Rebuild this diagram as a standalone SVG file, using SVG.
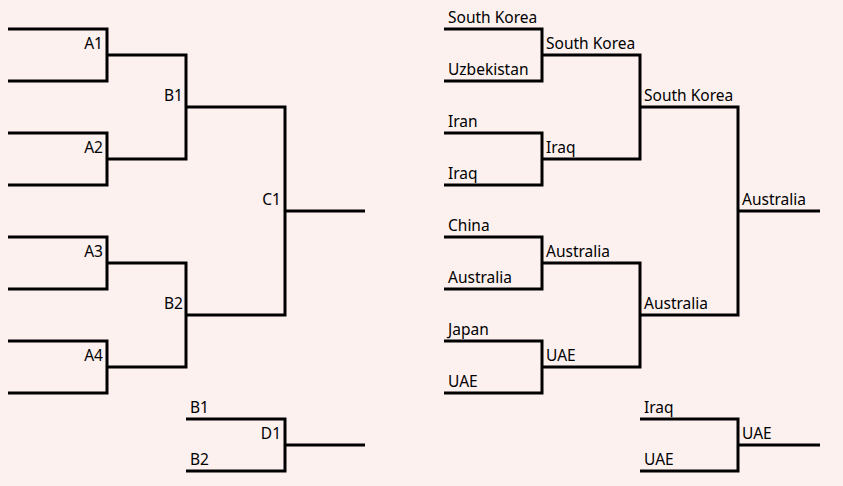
<svg xmlns="http://www.w3.org/2000/svg" width="843" height="486" viewBox="0 0 843 486">
<style>
.ln{fill:none;stroke:#000;stroke-width:3;stroke-linecap:butt;stroke-linejoin:miter}
.t{font-family:"Noto Sans","Open Sans","DejaVu Sans",sans-serif;font-size:15.5px;fill:#000}
.r{text-anchor:end}
</style>
<rect width="843" height="486" fill="#fdf1f0"/>
<g id="connectors">
<path class="ln" d="M8 29H107V81H8M8 133H107V185H8M8 237H107V289H8M8 341H107V393H8"/>
<path class="ln" d="M107 55H186V159H107M107 263H186V367H107"/>
<path class="ln" d="M186 107H285V315H186M285 211H365"/>
<path class="ln" d="M186 419H285V471H186M285 445H365"/>
<path class="ln" d="M444 29H542V81H444M444 133H542V185H444M444 237H542V289H444M444 341H542V393H444"/>
<path class="ln" d="M542 55H640V159H542M542 263H640V367H542"/>
<path class="ln" d="M640 107H738V315H640M738 211H820"/>
<path class="ln" d="M640 419H738V471H640M738 445H820"/>
</g>
<g id="A1"><text class="t r" x="103" y="49">A1</text></g>
<g id="A2"><text class="t r" x="103" y="153">A2</text></g>
<g id="A3"><text class="t r" x="103" y="257">A3</text></g>
<g id="A4"><text class="t r" x="103" y="361">A4</text></g>
<g id="B1"><text class="t r" x="183" y="101">B1</text></g>
<g id="B2"><text class="t r" x="183" y="309">B2</text></g>
<g id="C1"><text class="t r" x="281" y="205">C1</text></g>
<g id="D1"><text class="t" x="190" y="413">B1</text><text class="t" x="190" y="465">B2</text><text class="t r" x="281" y="439">D1</text></g>
<g id="r1">
<text class="t" x="448" y="23">South Korea</text>
<text class="t" x="448" y="75">Uzbekistan</text>
<text class="t" x="448" y="127">Iran</text>
<text class="t" x="448" y="179">Iraq</text>
<text class="t" x="448" y="231">China</text>
<text class="t" x="448" y="283">Australia</text>
<text class="t" x="448" y="335">Japan</text>
<text class="t" x="448" y="387">UAE</text>
</g>
<g id="r2">
<text class="t" x="546" y="49">South Korea</text>
<text class="t" x="546" y="153">Iraq</text>
<text class="t" x="546" y="257">Australia</text>
<text class="t" x="546" y="361">UAE</text>
</g>
<g id="r3">
<text class="t" x="644" y="101">South Korea</text>
<text class="t" x="644" y="309">Australia</text>
</g>
<g id="final"><text class="t" x="742" y="205">Australia</text></g>
<g id="third">
<text class="t" x="644" y="413">Iraq</text>
<text class="t" x="644" y="465">UAE</text>
<text class="t" x="742" y="439">UAE</text>
</g>
</svg>
